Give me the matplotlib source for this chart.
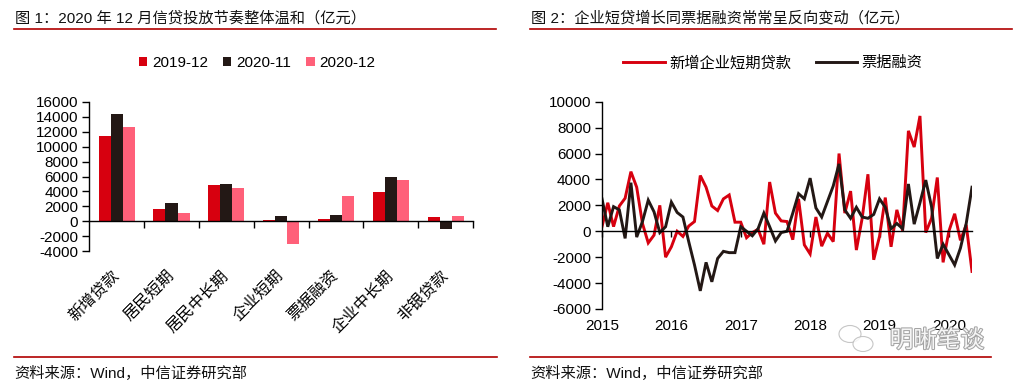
import numpy as np
import matplotlib
matplotlib.use('Agg')
import matplotlib.pyplot as plt
import matplotlib.patheffects as pe
from matplotlib.patches import Ellipse
from matplotlib.lines import Line2D

plt.rcParams['font.family'] = ['Liberation Sans', 'Noto Sans CJK SC', 'DejaVu Sans']
plt.rcParams['axes.unicode_minus'] = False

# 图1 数据（亿元）
categories = ['新增贷款', '居民短期', '居民中长期', '企业短期', '票据融资', '企业中长期', '非银贷款']
series_names = ['2019-12', '2020-11', '2020-12']
val_2019_12 = [11400, 1650, 4860, 180, 310, 3920, 580]
val_2020_11 = [14360, 2450, 5000, 710, 850, 5930, -980]
val_2020_12 = [12600, 1100, 4460, -2990, 3390, 5530, 710]

# 图2 数据（亿元），2015-01 起的月度数据
short_loans = [360, 2200, 360, 1950, 2550, 4600, 3400, 600, -900, -300,
               2000, -2000, -1200, 0, -400, 400, 750, 4300, 3400, 1950,
               1600, 2500, 2800, 700, 700, -500, -100, 150, -1000, 3800,
               1400, 800, 750, -650, 2500, -1050, -1750, 1100, -1150, -150,
               -800, 6000, 1400, 3100, -1450, 1000, 4400, -2200, -400, 2600,
               -1200, 1650, 50, 7750, 6500, 8900, -100, 1000, 4150, -2400,
               0, 1350, -700, 500, -3100]
bill_financing = [2500, 350, 1900, 1650, -550, 3750, -450, 750, 2400, 1500,
                  -100, 350, 2250, 1450, 1100, -800, -2600, -4600, -2400, -3900,
                  -2100, -1550, -1650, -1650, 350, 0, -350, 200, 1400, 350,
                  -750, -100, 0, 1400, 2900, 2500, 4100, 1800, 1100, 2300,
                  3500, 5200, 1650, 1000, 1850, 1100, 1000, 1300, 2500, 1850,
                  200, 600, 200, 3650, 550, 2200, 3950, 1900, -2100, -1000,
                  -1800, -2600, -1300, 600, 3400]
year_labels = ['2015', '2016', '2017', '2018', '2019', '2020']

RED = '#D7000F'
BLACK = '#231815'
PINK = '#FF6079'

W, H = 1022, 384
fig = plt.figure(figsize=(W / 100, H / 100), dpi=100)


def fx(px):
    return px / W


def fy(py):
    return 1 - py / H


# 标题、分隔线和资料来源
for x0, x1, x2, title in [(14, 496, 497, '图 1：2020 年 12 月信贷投放节奏整体温和（亿元）'),
                          (530, 1012, 991, '图 2：企业短贷增长同票据融资常常呈反向变动（亿元）')]:
    fig.text(fx(x0 + 1), fy(18), title, fontsize=11, va='center', ha='left', color='#111111')
    fig.add_artist(Line2D([fx(x0), fx(x1)], [fy(29), fy(29)], color='#B00000', lw=1.2))
    fig.add_artist(Line2D([fx(x0), fx(x2)], [fy(357), fy(357)], color='#B00000', lw=1.2))
    fig.text(fx(x0), fy(373), '资料来源：Wind，中信证券研究部', fontsize=11, va='center', ha='left',
             color='#111111')

# ---- 图1 柱状图 ----
ax1 = fig.add_axes([fx(89.3), fy(251.3), fx(473 - 89.3), (251.3 - 101.7) / H])
x = np.arange(len(categories))
bw = 0.22
colors = [RED, BLACK, PINK]
for k, (name, vals) in enumerate(zip(series_names, [val_2019_12, val_2020_11, val_2020_12])):
    ax1.bar(x + (k - 1) * bw, vals, width=bw, color=colors[k], label=name)
ax1.set_xlim(-0.5, len(categories) - 0.5)
ax1.set_ylim(-4000, 16000)
ax1.set_yticks(np.arange(-4000, 16001, 2000))
ax1.tick_params(axis='y', labelsize=11, length=5, width=1, direction='out', pad=3)
ax1.spines[['top', 'right']].set_visible(False)
ax1.spines['bottom'].set_position(('data', 0))
ax1.spines['left'].set_linewidth(1)
ax1.spines['bottom'].set_linewidth(1)
ax1.set_xticks(np.arange(0.5, len(categories) - 0.4, 1))
ax1.set_xticklabels([])
ax1.tick_params(axis='x', length=5, width=1, direction='out')
for i, c in enumerate(categories):
    ax1.text(i - 0.1, -0.11, c, transform=ax1.get_xaxis_transform(), rotation=45,
             rotation_mode='anchor', ha='right', va='top', fontsize=11.5)
ax1.patch.set_alpha(0)

fig.legend(*ax1.get_legend_handles_labels(), loc='center', bbox_to_anchor=(fx(257), fy(63)),
           ncol=3, frameon=False, fontsize=11, handlelength=0.55, handleheight=0.55,
           handletextpad=0.3, columnspacing=1.0)

# ---- 图2 折线图 ----
ax2 = fig.add_axes([fx(602), fy(309), fx(972 - 602), (309 - 101.7) / H])
months = np.arange(len(short_loans))
ax2.plot(months, short_loans, color=RED, lw=2.1, label='新增企业短期贷款', solid_joinstyle='miter')
ax2.plot(months, bill_financing, color=BLACK, lw=2.1, label='票据融资', solid_joinstyle='miter')
ax2.set_xlim(0, len(short_loans) - 1)
ax2.set_ylim(-6000, 10000)
ax2.set_yticks(np.arange(-6000, 10001, 2000))
ax2.tick_params(axis='y', labelsize=11, length=5, width=1, direction='out', pad=3)
ax2.spines[['top', 'right']].set_visible(False)
ax2.spines['bottom'].set_position(('data', 0))
ax2.spines['left'].set_linewidth(1)
ax2.spines['bottom'].set_linewidth(1)
year_pos = np.arange(len(year_labels)) * 12
ax2.set_xticks(year_pos)
ax2.set_xticklabels([])
ax2.tick_params(axis='x', length=4, width=1, direction='out')
for p, lab in zip(year_pos, year_labels):
    ax2.text(p, -0.05, lab, transform=ax2.get_xaxis_transform(), ha='center', va='top', fontsize=11)
ax2.patch.set_alpha(0)

fig.legend(*ax2.get_legend_handles_labels(), loc='center', bbox_to_anchor=(fx(773), fy(63)),
           ncol=2, frameon=False, fontsize=11, handlelength=2.7, handletextpad=0.3,
           columnspacing=1.6)

# 水印
for cx, cy, w, h in [(850, 334, 22, 17), (863, 344, 20, 15)]:
    fig.add_artist(Ellipse((fx(cx), fy(cy)), fx(w), h / H, facecolor='white',
                           edgecolor='#b8b8b8', lw=0.8, alpha=0.8))
fig.text(fx(937), fy(341), '明晰笔谈', fontsize=17, ha='center', va='center', color='white',
         path_effects=[pe.withStroke(linewidth=1.5, foreground='#9a9a9a')], alpha=0.9)

fig.savefig('out.png', dpi=100)
